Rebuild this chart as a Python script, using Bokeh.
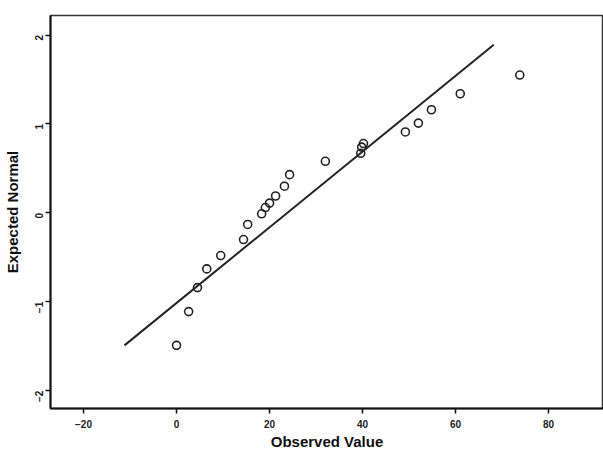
import math
from bokeh.plotting import figure
from bokeh.models import Range1d, FixedTicker
from bokeh.embed import file_html
from bokeh.resources import INLINE

observed = [0, 2.6, 4.5, 6.5, 9.5, 14.4, 15.3, 18.3, 19.1, 20.0, 21.3, 23.2, 24.3,
            32.0, 39.6, 39.8, 40.2, 49.2, 52.0, 54.8, 61.0, 73.8]
expected = [-1.49, -1.11, -0.84, -0.63, -0.48, -0.30, -0.13, -0.01, 0.06, 0.11, 0.19, 0.30, 0.43,
            0.58, 0.67, 0.74, 0.78, 0.91, 1.01, 1.16, 1.34, 1.55]

# Reference line endpoints
line_x = [-11.2, 68.2]
line_y = [-1.49, 1.89]

x_ticks = [-20, 0, 20, 40, 60, 80]
y_ticks = [-2, -1, 0, 1, 2]

p = figure(width=603, height=456, output_backend="svg", toolbar_location=None,
           x_range=Range1d(-27.1, 91.8), y_range=Range1d(-2.2, 2.22),
           min_border_left=50, min_border_top=15, min_border_bottom=48, min_border_right=0)

p.background_fill_color = "white"
p.border_fill_color = "white"
p.outline_line_color = "#333333"
p.outline_line_width = 1.5
p.xgrid.visible = False
p.ygrid.visible = False

p.line(line_x, line_y, line_color="#222222", line_width=2)
p.scatter(observed, expected, marker="circle", size=8, fill_color=None,
          line_color="#222222", line_width=1.6)

for ax, ticks in ((p.xaxis, x_ticks), (p.yaxis, y_ticks)):
    ax.ticker = FixedTicker(ticks=ticks)
    ax.axis_line_color = "#111111"
    ax.axis_line_width = 2
    ax.major_tick_line_color = "#111111"
    ax.major_tick_line_width = 1.5
    ax.major_tick_out = 5
    ax.major_tick_in = 0
    ax.minor_tick_line_color = None
    ax.major_label_text_font = "Liberation Sans"
    ax.major_label_text_font_size = "10px"
    ax.major_label_text_font_style = "bold"
    ax.major_label_text_color = "#222222"
    ax.axis_label_text_font = "Liberation Sans"
    ax.axis_label_text_font_size = "15px"
    ax.axis_label_text_font_style = "bold"
    ax.axis_label_text_color = "#111111"

p.xaxis.axis_label = "Observed Value"
p.yaxis.axis_label = "Expected Normal"
p.xaxis.axis_label_standoff = 2
p.xaxis.major_label_standoff = 6
p.yaxis.axis_label_standoff = 8
p.yaxis.major_label_standoff = 6
p.yaxis.major_label_orientation = math.pi / 2

open("out.html", "w").write(file_html(p, INLINE))
